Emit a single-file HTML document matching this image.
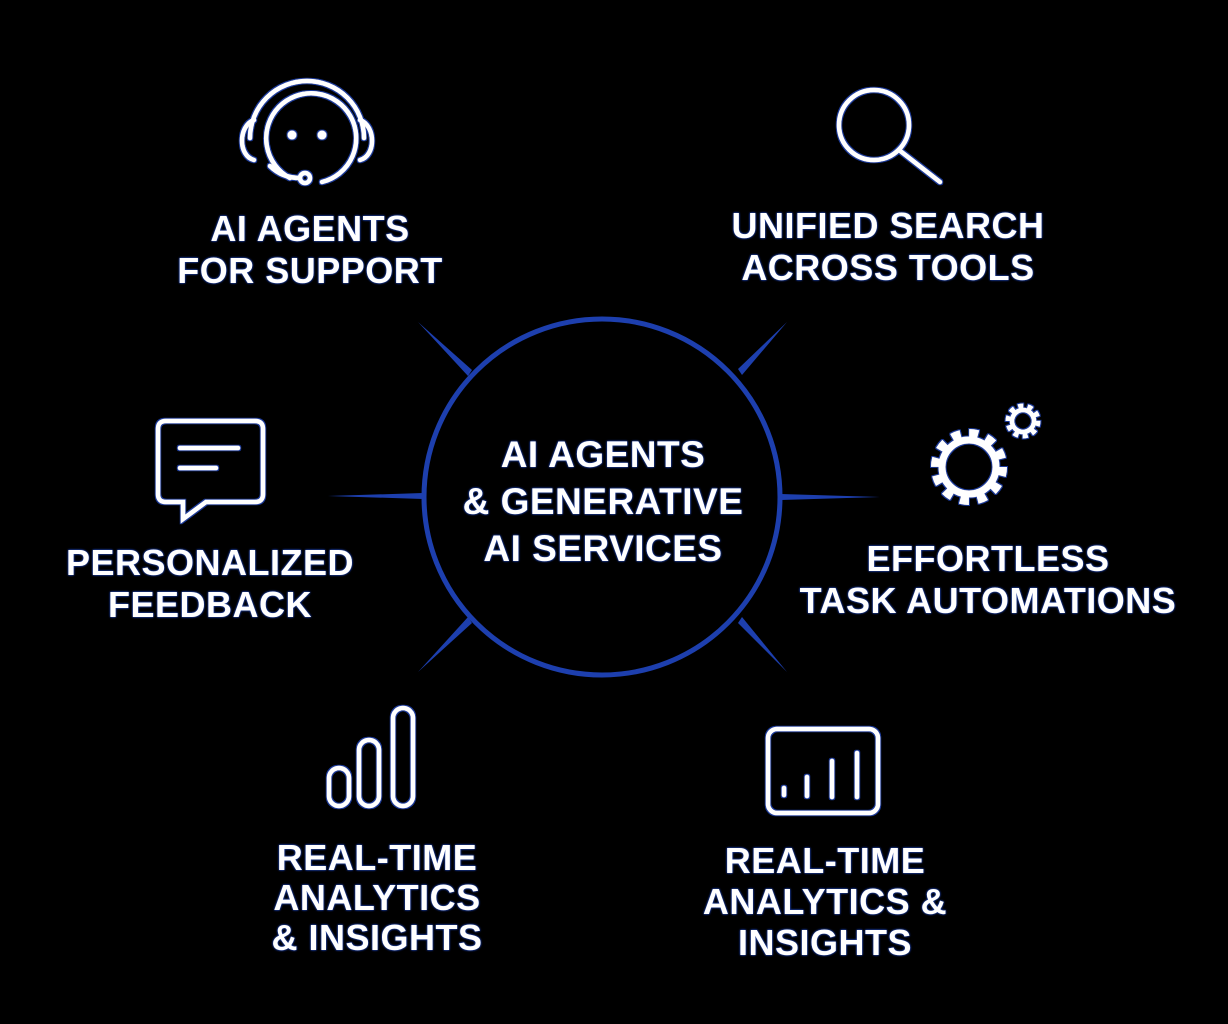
<!DOCTYPE html>
<html><head><meta charset="utf-8"><style>
html,body{margin:0;padding:0;background:#000;}
body{width:1228px;height:1024px;position:relative;overflow:hidden;font-family:"Liberation Sans",sans-serif;}
.t{position:absolute;color:#fff;text-align:center;font-size:36px;font-weight:bold;line-height:42px;letter-spacing:0.5px;
text-shadow:0 0 2px #1a3a9a,0 0 2px #1a3a9a,0 0 1px #2a4ab0;white-space:nowrap;transform:translateX(-50%);}
svg{position:absolute;left:0;top:0;}
</style></head><body>
<svg width="1228" height="1024" viewBox="0 0 1228 1024">
<defs><filter id="g"><feMorphology operator="dilate" radius="1.2" in="SourceAlpha" result="d"/><feFlood flood-color="#1a3a9a"/><feComposite in2="d" operator="in" result="o"/><feMerge><feMergeNode in="o"/><feMergeNode in="SourceGraphic"/></feMerge></filter></defs>
<g fill="#1d3fae">
<polygon points="418,322 472,370 468,376"/>
<polygon points="787,322 738,369 742,375"/>
<polygon points="328,496 423,493 423,499"/>
<polygon points="880,497 781,494 781,500"/>
<polygon points="418,672 468,617 472,623"/>
<polygon points="787,672 742,617 738,623"/>
</g>
<circle cx="602" cy="497" r="178" fill="none" stroke="#1d3fae" stroke-width="5"/>
<g fill="none" stroke="#fff" stroke-width="4.5" stroke-linecap="round" filter="url(#g)">
<!-- headset -->
<path d="M250,138 A57,57 0 0 1 364,138"/>
<path d="M254,120 C238,126 238,156 254,160"/>
<path d="M360,120 C376,126 376,156 360,160"/>
<path d="M322,182 A45,45 0 1 0 290,178"/>
<path d="M270,166 Q282,178 300,178"/>
<circle cx="305" cy="178" r="5"/>
<!-- search -->
<circle cx="874" cy="125" r="35"/>
<line x1="899" y1="150" x2="940" y2="182"/>
<!-- chat -->
<path d="M166,421 H255 Q263,421 263,429 V494 Q263,502 255,502 H206 L183,519 V502 H166 Q158,502 158,494 V429 Q158,421 166,421 Z"/>
<line x1="180" y1="448" x2="238" y2="448"/>
<line x1="180" y1="468" x2="216" y2="468"/>
<!-- bars -->
<rect x="329" y="768" width="20" height="38" rx="10"/>
<rect x="359" y="740" width="20" height="66" rx="10"/>
<rect x="393" y="708" width="20" height="98" rx="10"/>
<!-- chart panel -->
<rect x="768" y="729" width="110" height="84" rx="9"/>
<line x1="784" y1="788" x2="784" y2="795"/>
<line x1="807" y1="777" x2="807" y2="796"/>
<line x1="832" y1="761" x2="832" y2="797"/>
<line x1="857" y1="753" x2="857" y2="797"/>
</g>
<g fill="#fff" filter="url(#g)">
<circle cx="292" cy="135" r="4.5"/><circle cx="322" cy="135" r="4.5"/>
</g>
<g fill="none" stroke="#fff" filter="url(#g)">
<circle cx="969" cy="467" r="27" stroke-width="7"/>
<circle cx="969" cy="467" r="34" stroke-width="8" stroke-dasharray="9 8.8"/>
<circle cx="1023" cy="421" r="11" stroke-width="4.5"/>
<circle cx="1023" cy="421" r="15" stroke-width="5" stroke-dasharray="5 4.4"/>
</g>
</svg>
<div class="t" style="left:310px;top:208px">AI AGENTS<br>FOR SUPPORT</div>
<div class="t" style="left:888px;top:205px">UNIFIED SEARCH<br>ACROSS TOOLS</div>
<div class="t" style="left:210px;top:542px">PERSONALIZED<br>FEEDBACK</div>
<div class="t" style="left:988px;top:538px">EFFORTLESS<br>TASK AUTOMATIONS</div>
<div class="t" style="left:603px;top:431px;font-size:37px;line-height:47px">AI AGENTS<br>&amp; GENERATIVE<br>AI SERVICES</div>
<div class="t" style="left:377px;top:838px;line-height:40px">REAL-TIME<br>ANALYTICS<br>&amp; INSIGHTS</div>
<div class="t" style="left:825px;top:840px;line-height:41px">REAL-TIME<br>ANALYTICS &amp;<br>INSIGHTS</div>
</body></html>
